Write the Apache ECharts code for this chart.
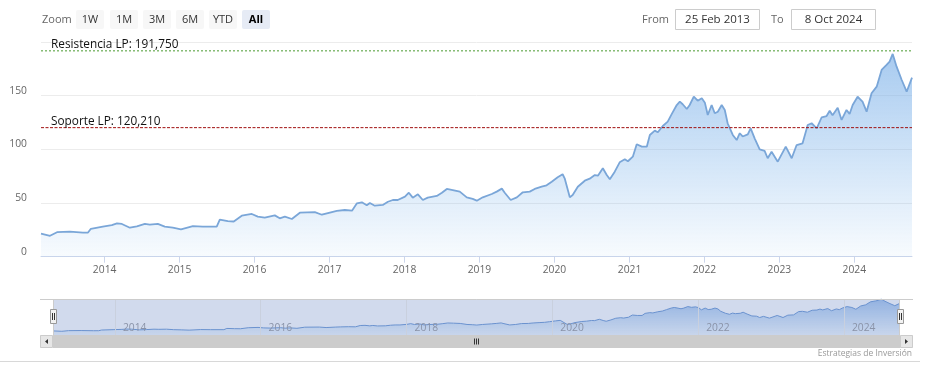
<!DOCTYPE html>
<html>
<head>
<meta charset="utf-8">
<script src="https://cdn.jsdelivr.net/npm/echarts@6/dist/echarts.min.js"></script>
<style>
html,body{margin:0;padding:0;background:#fff;}
#c{width:925px;height:386px;}
</style>
</head>
<body>
<div id="c"></div>
<script>
// ---- data ----
const dates = [
 '2013-02-25','2013-04-10','2013-05-14','2013-07-16','2013-09-17','2013-10-12','2013-10-26','2013-12-23',
 '2014-02-05','2014-03-02','2014-03-26','2014-05-04','2014-06-07','2014-07-16','2014-08-09','2014-09-17','2014-10-21','2014-11-29',
 '2015-01-08','2015-03-07','2015-04-24','2015-07-01','2015-07-16','2015-08-24','2015-09-22','2015-10-31','2015-12-19',
 '2016-01-17','2016-02-20','2016-04-09','2016-05-03','2016-05-28','2016-07-01','2016-08-09','2016-10-21','2016-11-24',
 '2017-01-12','2017-02-05','2017-03-16','2017-04-20','2017-05-14','2017-06-07','2017-07-01','2017-07-16','2017-08-09','2017-09-17','2017-10-12','2017-11-05','2017-11-29',
 '2018-01-03','2018-01-22','2018-02-10','2018-03-07','2018-03-31','2018-04-24','2018-06-07','2018-07-02','2018-07-26','2018-08-24','2018-09-27','2018-10-31','2018-11-29','2018-12-19',
 '2019-01-17','2019-03-02','2019-03-26','2019-04-20','2019-05-04','2019-06-02','2019-07-02','2019-07-31','2019-09-03','2019-09-27','2019-10-31','2019-11-24','2019-12-19',
 '2020-01-17','2020-02-10','2020-02-20','2020-03-16','2020-03-30','2020-04-24','2020-05-28','2020-06-21','2020-07-16','2020-07-31','2020-08-24','2020-09-12','2020-09-27','2020-10-21','2020-11-14','2020-12-09','2020-12-24',
 '2021-01-17','2021-02-05','2021-03-02','2021-03-26','2021-04-10','2021-05-04','2021-05-19','2021-06-12','2021-07-06','2021-07-26','2021-08-19','2021-09-03','2021-09-17','2021-10-07','2021-10-21','2021-11-10','2021-11-29','2021-12-19',
 '2022-01-03','2022-01-17','2022-02-05','2022-02-20','2022-03-07','2022-03-26','2022-04-10','2022-04-24','2022-05-19','2022-06-07','2022-06-22','2022-07-06','2022-07-31','2022-08-14','2022-09-03','2022-09-27','2022-10-21','2022-11-05','2022-11-24','2022-12-24',
 '2023-02-01','2023-03-02','2023-03-26','2023-04-24','2023-05-19','2023-06-07','2023-07-02','2023-07-26','2023-08-19','2023-09-03','2023-09-17','2023-10-12','2023-10-31','2023-11-24','2023-12-09','2023-12-24',
 '2024-01-17','2024-02-10','2024-03-01','2024-03-25','2024-04-19','2024-05-13','2024-06-06','2024-06-21','2024-07-06','2024-07-25','2024-08-19','2024-08-28','2024-09-12','2024-10-08'
];
const values = [
 21.5,19.5,22.8,23.3,22.4,22.5,26,28,
 29.5,31.1,30.5,27,28.3,30.5,29.8,30.5,28,27,
 25.5,28.5,28,28,34.5,33.2,32.8,38.2,39.8,
 37.3,36.3,38.5,35.8,37.3,35.1,41,41.6,39.1,
 41.6,42.6,43.5,42.9,49.7,50.7,47.9,50,47.5,48.2,51.2,52.8,52.8,
 55.9,59.6,55,58.1,52.8,55,56.6,59.6,63.1,62.1,60.6,55.3,53.8,52.2,
 55.3,58.4,60.6,63.4,59.6,52.8,55.3,60,60.6,63.1,65.2,66.5,69.9,
 74,76.8,73,55.3,57.5,65.2,70.8,72.7,76.1,75.5,82.4,76.1,72.1,79.2,87.9,90.7,88.9,
 93.2,104.7,102.5,102.5,113.4,117.4,115.9,121.8,125.8,133,141.3,144.4,142,137.6,141.3,149.1,145.3,147.6,
 143.5,132,141.3,133.6,135,141.3,136.7,124.3,113.4,108.7,115,112,114,119.6,110,100,98.6,91.7,97.8,88.5,
 102.5,91.7,104,105.6,122.7,124.3,119.6,129.9,131,136,131.7,138.8,127.4,136.7,133,141.3,
 149,144.4,135.1,152.2,158.4,174,178.6,181.7,188.9,177,164.6,166,153.7,166.8
];
const levelNames = ['Resistencia LP', 'Soporte LP'];
const levelValues = [191.75, 120.21];
const levelColors = ['#4a9a30', '#a01010'];
const mainYears = [2014,2015,2016,2017,2018,2019,2020,2021,2022,2023,2024];
const navYears = [2014,2016,2018,2020,2022,2024];
const zoomButtons = ['1W','1M','3M','6M','YTD','All'];
const fromText = '25 Feb 2013';
const toText = '8 Oct 2024';
// ---------------------------------------------

const FONT = '"Open Sans", "DejaVu Sans", sans-serif';
const toTs = s => { const p = s.split('-').map(Number); return new Date(p[0], p[1] - 1, p[2]).getTime(); };
const seriesData = dates.map((d, i) => [toTs(d), values[i]]);
const firstTs = toTs(dates[0]);
const lastTs = toTs(dates[dates.length - 1]);
const yearTs = y => new Date(y, 0, 1).getTime();
const yearFmt = v => String(new Date(v).getFullYear());

const chart = echarts.init(document.getElementById('c'), null, {renderer: 'canvas'});

const graphics = [];
// range selector
graphics.push({type:'text', x: 42, y: 19.5, style:{text:'Zoom', font:'11px ' + FONT, fill:'#666', verticalAlign:'middle'}});
const btnX = [76,110,143,176,209,242];
zoomButtons.forEach((b, i) => {
  const sel = b === 'All';
  graphics.push({type:'rect', shape:{x:btnX[i], y:10, width:28, height:19, r:2},
    style:{fill: sel ? '#e6ebf5' : '#f7f7f7'}});
  graphics.push({type:'text', x: btnX[i] + 14, y: 19.5,
    style:{text:b, font:(sel ? 'bold ' : '') + '11px ' + FONT, fill: sel ? '#000' : '#333', align:'center', verticalAlign:'middle'}});
});
graphics.push({type:'text', x: 642, y: 19.5, style:{text:'From', font:'11px ' + FONT, fill:'#666', verticalAlign:'middle'}});
graphics.push({type:'rect', shape:{x:675.5, y:9.5, width:84, height:20}, style:{fill:'#fff', stroke:'#cccccc', lineWidth:1}});
graphics.push({type:'text', x: 717.5, y: 19.5, style:{text:fromText, font:'11.5px ' + FONT, fill:'#333', align:'center', verticalAlign:'middle'}});
graphics.push({type:'text', x: 771, y: 19.5, style:{text:'To', font:'11px ' + FONT, fill:'#666', verticalAlign:'middle'}});
graphics.push({type:'rect', shape:{x:791.5, y:9.5, width:84, height:20}, style:{fill:'#fff', stroke:'#cccccc', lineWidth:1}});
graphics.push({type:'text', x: 833.5, y: 19.5, style:{text:toText, font:'11.5px ' + FONT, fill:'#333', align:'center', verticalAlign:'middle'}});

// navigator mask + outline
graphics.push({type:'rect', z: 3, silent:true, shape:{x:53, y:299, width:847, height:36}, style:{fill:'rgba(102,133,194,0.3)'}});
graphics.push({type:'line', z: 6, silent:true, shape:{x1:40,y1:299.5,x2:913,y2:299.5}, style:{stroke:'#cccccc', lineWidth:1}});
graphics.push({type:'line', z: 6, silent:true, shape:{x1:53.5,y1:299,x2:53.5,y2:335}, style:{stroke:'#cccccc', lineWidth:1}});
graphics.push({type:'line', z: 6, silent:true, shape:{x1:899.5,y1:299,x2:899.5,y2:335}, style:{stroke:'#cccccc', lineWidth:1}});
// handles
[50.5, 897.5].forEach(hx => {
  graphics.push({type:'rect', z: 7, shape:{x:hx, y:309.5, width:6, height:14}, style:{fill:'#f2f2f2', stroke:'#999999', lineWidth:1}});
  graphics.push({type:'line', z: 8, shape:{x1:hx+2,y1:313,x2:hx+2,y2:320}, style:{stroke:'#333', lineWidth:1}});
  graphics.push({type:'line', z: 8, shape:{x1:hx+4,y1:313,x2:hx+4,y2:320}, style:{stroke:'#333', lineWidth:1}});
});
// scrollbar
graphics.push({type:'rect', shape:{x:40, y:335, width:873, height:13}, style:{fill:'#f2f2f2'}});
graphics.push({type:'rect', shape:{x:53, y:335, width:847, height:13}, style:{fill:'#cccccc'}});
graphics.push({type:'rect', shape:{x:40.5, y:335.5, width:12, height:12}, style:{fill:'#e6e6e6', stroke:'#cccccc', lineWidth:1}});
graphics.push({type:'rect', shape:{x:900.5, y:335.5, width:12, height:12}, style:{fill:'#e6e6e6', stroke:'#cccccc', lineWidth:1}});
graphics.push({type:'polygon', shape:{points:[[45,341.5],[48,339],[48,344]]}, style:{fill:'#333'}});
graphics.push({type:'polygon', shape:{points:[[908,341.5],[905,339],[905,344]]}, style:{fill:'#333'}});
[474.5, 476.5, 478.5].forEach(rx => {
  graphics.push({type:'line', shape:{x1:rx,y1:338.5,x2:rx,y2:344.5}, style:{stroke:'#333', lineWidth:1}});
});
// bottom separator and credits
graphics.push({type:'line', shape:{x1:0,y1:361.5,x2:920,y2:361.5}, style:{stroke:'#d8d8d8', lineWidth:1}});
graphics.push({type:'text', x: 912, y: 354, style:{text:'Estrategias de Inversión', font:'8.5px ' + FONT, fill:'#999', align:'right', verticalAlign:'middle'}});

const areaGrad = new echarts.graphic.LinearGradient(0, 0, 0, 1, [
  {offset: 0, color: 'rgba(124,176,232,0.95)'},
  {offset: 1, color: 'rgba(124,181,236,0.08)'}
]);
const navGrad = new echarts.graphic.LinearGradient(0, 0, 0, 1, [
  {offset: 0, color: 'rgba(110,160,225,0.9)'},
  {offset: 1, color: 'rgba(124,181,236,0.15)'}
]);

// horizontal level lines drawn as two-point line series, labelled at their first point
const levelSeries = levelValues.map((v, i) => ({
  type: 'line', xAxisIndex: 0, yAxisIndex: 0, z: 4,
  data: [[firstTs, v], [lastTs, v]],
  symbol: 'none', silent: true,
  color: levelColors[i],
  lineStyle: {color: levelColors[i], type: i === 0 ? [2, 2] : [3, 1.5], width: 1},
  label: {show: false},
  markPoint: {
    symbol: 'rect', symbolSize: 0, silent: true,
    data: [{coord: [firstTs, v],
      label: {show: true, position: 'insideLeft', offset: [5, -6],
        formatter: levelNames[i] + ': ' + v.toFixed(3).replace('.', ','),
        color: '#111', fontSize: 11.8, fontFamily: FONT}}]
  }
}));

const option = {
  animation: false,
  textStyle: {fontFamily: FONT},
  grid: [
    {left: 41, right: 13, top: 42, height: 214.7},
    {left: 53, right: 25, top: 299, height: 36}
  ],
  xAxis: [
    {
      type: 'value', gridIndex: 0, min: 'dataMin', max: 'dataMax', scale: true,
      axisLine: {show: true, lineStyle: {color: '#ccd6eb', width: 1}},
      axisTick: {show: true, length: 6, lineStyle: {color: '#ccd6eb'}, customValues: mainYears.map(yearTs)},
      axisLabel: {customValues: mainYears.map(yearTs), color: '#666', fontSize: 10.3, fontFamily: FONT, margin: 8,
        formatter: yearFmt},
      splitLine: {show: false}
    },
    {
      type: 'value', gridIndex: 1, min: 'dataMin', max: 'dataMax', scale: true, z: 5,
      axisLine: {show: false},
      axisTick: {show: false, customValues: navYears.map(yearTs)},
      axisLabel: {inside: true, customValues: navYears.map(yearTs), color: '#8a93a8', fontSize: 10.3, fontFamily: FONT,
        margin: 2, align: 'left', padding: [0, 0, 0, 8], formatter: yearFmt},
      splitLine: {show: true, lineStyle: {color: '#c9d0de', width: 1}}
    }
  ],
  yAxis: [
    {
      type: 'value', gridIndex: 0, min: 0, max: 200, interval: 50,
      axisLine: {show: false}, axisTick: {show: false},
      axisLabel: {color: '#666', fontSize: 10.3, fontFamily: FONT, margin: 14, showMaxLabel: false,
        verticalAlign: 'bottom', lineHeight: 10},
      splitLine: {show: true, lineStyle: {color: '#ececec', width: 1}}
    },
    {
      type: 'value', gridIndex: 1, min: 0, max: 'dataMax', show: false,
      splitLine: {show: false}
    }
  ],
  graphic: graphics,
  series: [
    {
      type: 'line', xAxisIndex: 0, yAxisIndex: 0, data: seriesData,
      symbol: 'none', z: 2,
      lineStyle: {color: '#7aa6d8', width: 1.8},
      itemStyle: {color: '#7aa6d8'},
      areaStyle: {color: areaGrad, origin: 'start'}
    },
    levelSeries[0],
    levelSeries[1],
    {
      type: 'line', xAxisIndex: 1, yAxisIndex: 1, data: seriesData,
      symbol: 'none', z: 2,
      lineStyle: {color: '#6c98d4', width: 1},
      areaStyle: {color: navGrad, origin: 'start'}
    }
  ]
};
chart.setOption(option);
</script>
</body>
</html>
